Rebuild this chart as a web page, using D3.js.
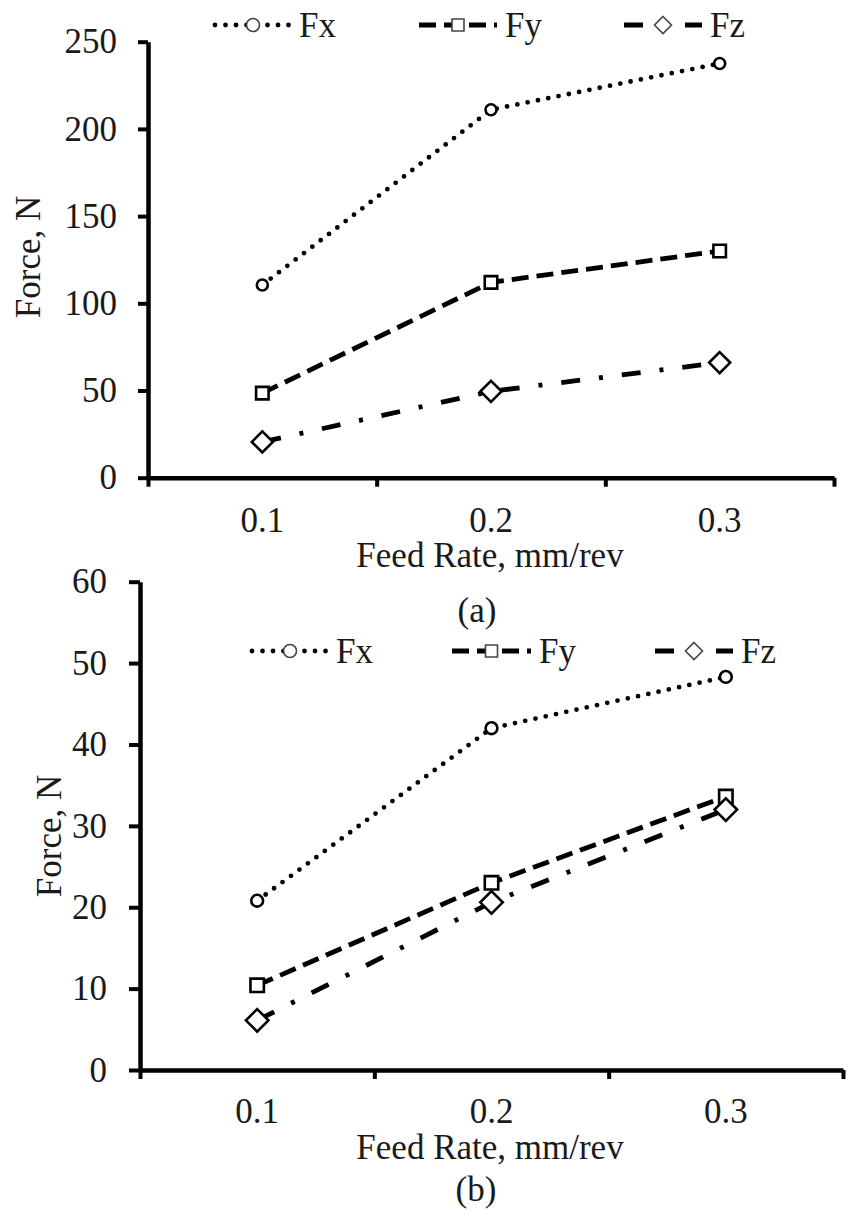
<!DOCTYPE html>
<html>
<head>
<meta charset="utf-8">
<script src="https://cdn.jsdelivr.net/npm/d3@7"></script>
<style>
  html, body { margin: 0; padding: 0; background: #fff; }
  svg { display: block; }
  text { font-family: "Liberation Serif", "Times New Roman", serif; fill: #1a1a1a; }
</style>
</head>
<body>
<svg id="chart" width="849" height="1211"></svg>
<script>
// ---- data ----
const feedRates = ["0.1", "0.2", "0.3"];
const seriesNames = ["Fx", "Fy", "Fz"];

// panel (a)
const fxA = [110.5, 211, 237.5];
const fyA = [48.5, 112, 130];
const fzA = [20.5, 49.5, 66];
const yTicksA = [0, 50, 100, 150, 200, 250];

// panel (b)
const fxB = [20.8, 42, 48.3];
const fyB = [10.4, 23, 33.6];
const fzB = [6.1, 20.6, 32];
const yTicksB = [0, 10, 20, 30, 40, 50, 60];

const xTitle = "Feed Rate, mm/rev";
const yTitle = "Force, N";

// ---- styles per series ----
const diamond = {
  draw(ctx, size) {
    const r = Math.sqrt(size / 2);
    ctx.moveTo(0, -r); ctx.lineTo(r, 0); ctx.lineTo(0, r); ctx.lineTo(-r, 0); ctx.closePath();
  }
};
const seriesStyle = {
  Fx: { dash: "0 10.5", width: 4.8, cap: "round", symbol: d3.symbolCircle },
  Fy: { dash: "17 8", width: 4.8, cap: "butt", symbol: d3.symbolSquare },
  Fz: { dash: "19 19 4 19", width: 4.8, cap: "butt", symbol: diamond }
};
const markerSize = { Fx: Math.PI * 5.5 * 5.5, Fy: 12.5 * 12.5, Fz: 2 * 10.5 * 10.5 };
const legendMarkerSize = { Fx: Math.PI * 6.5 * 6.5, Fy: 12 * 12, Fz: 2 * 8.5 * 8.5 };

const svg = d3.select("#chart");

function drawPanel(cfg) {
  const g = svg.append("g");
  const n = feedRates.length;

  const x = d3.scaleBand().domain(feedRates).range([cfg.x0, cfg.x1]).paddingInner(0).paddingOuter(0);
  const xEdge = d3.scaleLinear().domain([0, n]).range([cfg.x0, cfg.x1]);
  const y = d3.scaleLinear().domain([0, cfg.yMax]).range([cfg.yBottom, cfg.yTop]);

  // y axis
  const yAxis = g.append("g")
    .attr("transform", `translate(${cfg.x0},0)`)
    .call(d3.axisLeft(y).tickValues(cfg.yTicks).tickSize(cfg.yTickLen).tickSizeOuter(0).tickPadding(cfg.yPad));
  yAxis.select(".domain").attr("stroke", "#000").attr("stroke-width", 4.5);
  yAxis.selectAll(".tick line").attr("stroke", "#000").attr("stroke-width", 4);
  yAxis.selectAll(".tick text").attr("font-size", 35).attr("font-family", null).attr("fill", "#1a1a1a");

  // x axis line with category boundary ticks
  const xAxis = g.append("g")
    .attr("transform", `translate(0,${cfg.yBottom})`)
    .call(d3.axisBottom(xEdge).tickValues(d3.range(n + 1)).tickSize(9).tickSizeOuter(0).tickFormat(() => ""));
  xAxis.select(".domain").attr("stroke", "#000").attr("stroke-width", 4.5);
  xAxis.selectAll(".tick line").attr("stroke", "#000").attr("stroke-width", 4);

  // category labels at band centres
  const xLab = g.append("g")
    .attr("transform", `translate(0,${cfg.yBottom})`)
    .call(d3.axisBottom(x).tickSize(0).tickPadding(cfg.xPad));
  xLab.select(".domain").remove();
  xLab.selectAll(".tick text").attr("font-size", 35).attr("font-family", null).attr("fill", "#1a1a1a");

  // axis titles and panel caption
  g.append("text").attr("x", cfg.xTitleX).attr("y", cfg.xTitleY)
    .attr("text-anchor", "middle").attr("font-size", 35).text(xTitle);
  g.append("text").attr("x", cfg.capX).attr("y", cfg.capY)
    .attr("text-anchor", "middle").attr("font-size", 35).text(cfg.caption);
  g.append("text")
    .attr("transform", `translate(${cfg.yTitleX},${cfg.yTitleY}) rotate(-90)`)
    .attr("text-anchor", "middle").attr("font-size", 35).text(yTitle);

  // series lines
  const line = d3.line().x((d, i) => x(feedRates[i]) + x.bandwidth() / 2).y(d => y(d));
  seriesNames.forEach((name, k) => {
    const vals = cfg.values[k];
    const st = seriesStyle[name];
    g.append("path").datum(vals)
      .attr("d", line)
      .attr("fill", "none").attr("stroke", "#000")
      .attr("stroke-width", st.width).attr("stroke-dasharray", st.dash).attr("stroke-linecap", st.cap);
  });
  // markers on top
  seriesNames.forEach((name, k) => {
    const vals = cfg.values[k];
    const st = seriesStyle[name];
    g.append("g").selectAll("path").data(vals).join("path")
      .attr("transform", (d, i) => `translate(${x(feedRates[i]) + x.bandwidth() / 2},${y(d)})`)
      .attr("d", d3.symbol().type(st.symbol).size(markerSize[name] * cfg.markerScale))
      .attr("fill", "#fff").attr("stroke", "#000").attr("stroke-width", 2.6);
  });

  // legend
  const lg = g.append("g");
  seriesNames.forEach((name, k) => {
    const L = cfg.legend[k];
    const st = seriesStyle[name];
    lg.append("line")
      .attr("x1", L.x0).attr("x2", L.x1).attr("y1", cfg.legendY).attr("y2", cfg.legendY)
      .attr("stroke", "#000").attr("stroke-width", st.width)
      .attr("stroke-dasharray", st.dash).attr("stroke-linecap", st.cap);
    lg.append("path")
      .attr("transform", `translate(${(L.x0 + L.x1) / 2},${cfg.legendY})`)
      .attr("d", d3.symbol().type(st.symbol).size(legendMarkerSize[name]))
      .attr("fill", "#fff").attr("stroke", "#444").attr("stroke-width", 1.6);
    lg.append("text").attr("x", L.x1 + 8).attr("y", cfg.legendY + 12)
      .attr("font-size", 35).text(name);
  });
}

drawPanel({
  x0: 148, x1: 834, yTop: 41.7, yBottom: 477.7, yMax: 250, yTicks: yTicksA,
  yTickLen: 10, yPad: 21, xPad: 29,
  values: [fxA, fyA, fzA],
  xTitleX: 490, xTitleY: 567,
  capX: 477, capY: 622, caption: "(a)",
  yTitleX: 40, yTitleY: 257,
  markerScale: 1,
  legendY: 25,
  legend: [{ x0: 215, x1: 291 }, { x0: 419, x1: 497 }, { x0: 624, x1: 702 }]
});

drawPanel({
  x0: 140, x1: 843, yTop: 581.7, yBottom: 1070, yMax: 60, yTicks: yTicksB,
  yTickLen: 11, yPad: 22, xPad: 28,
  values: [fxB, fyB, fzB],
  xTitleX: 490, xTitleY: 1159,
  capX: 476, capY: 1201, caption: "(b)",
  yTitleX: 61, yTitleY: 836,
  markerScale: 1.15,
  legendY: 651,
  legend: [{ x0: 252, x1: 328 }, { x0: 452, x1: 531 }, { x0: 655, x1: 733 }]
});
</script>
</body>
</html>
